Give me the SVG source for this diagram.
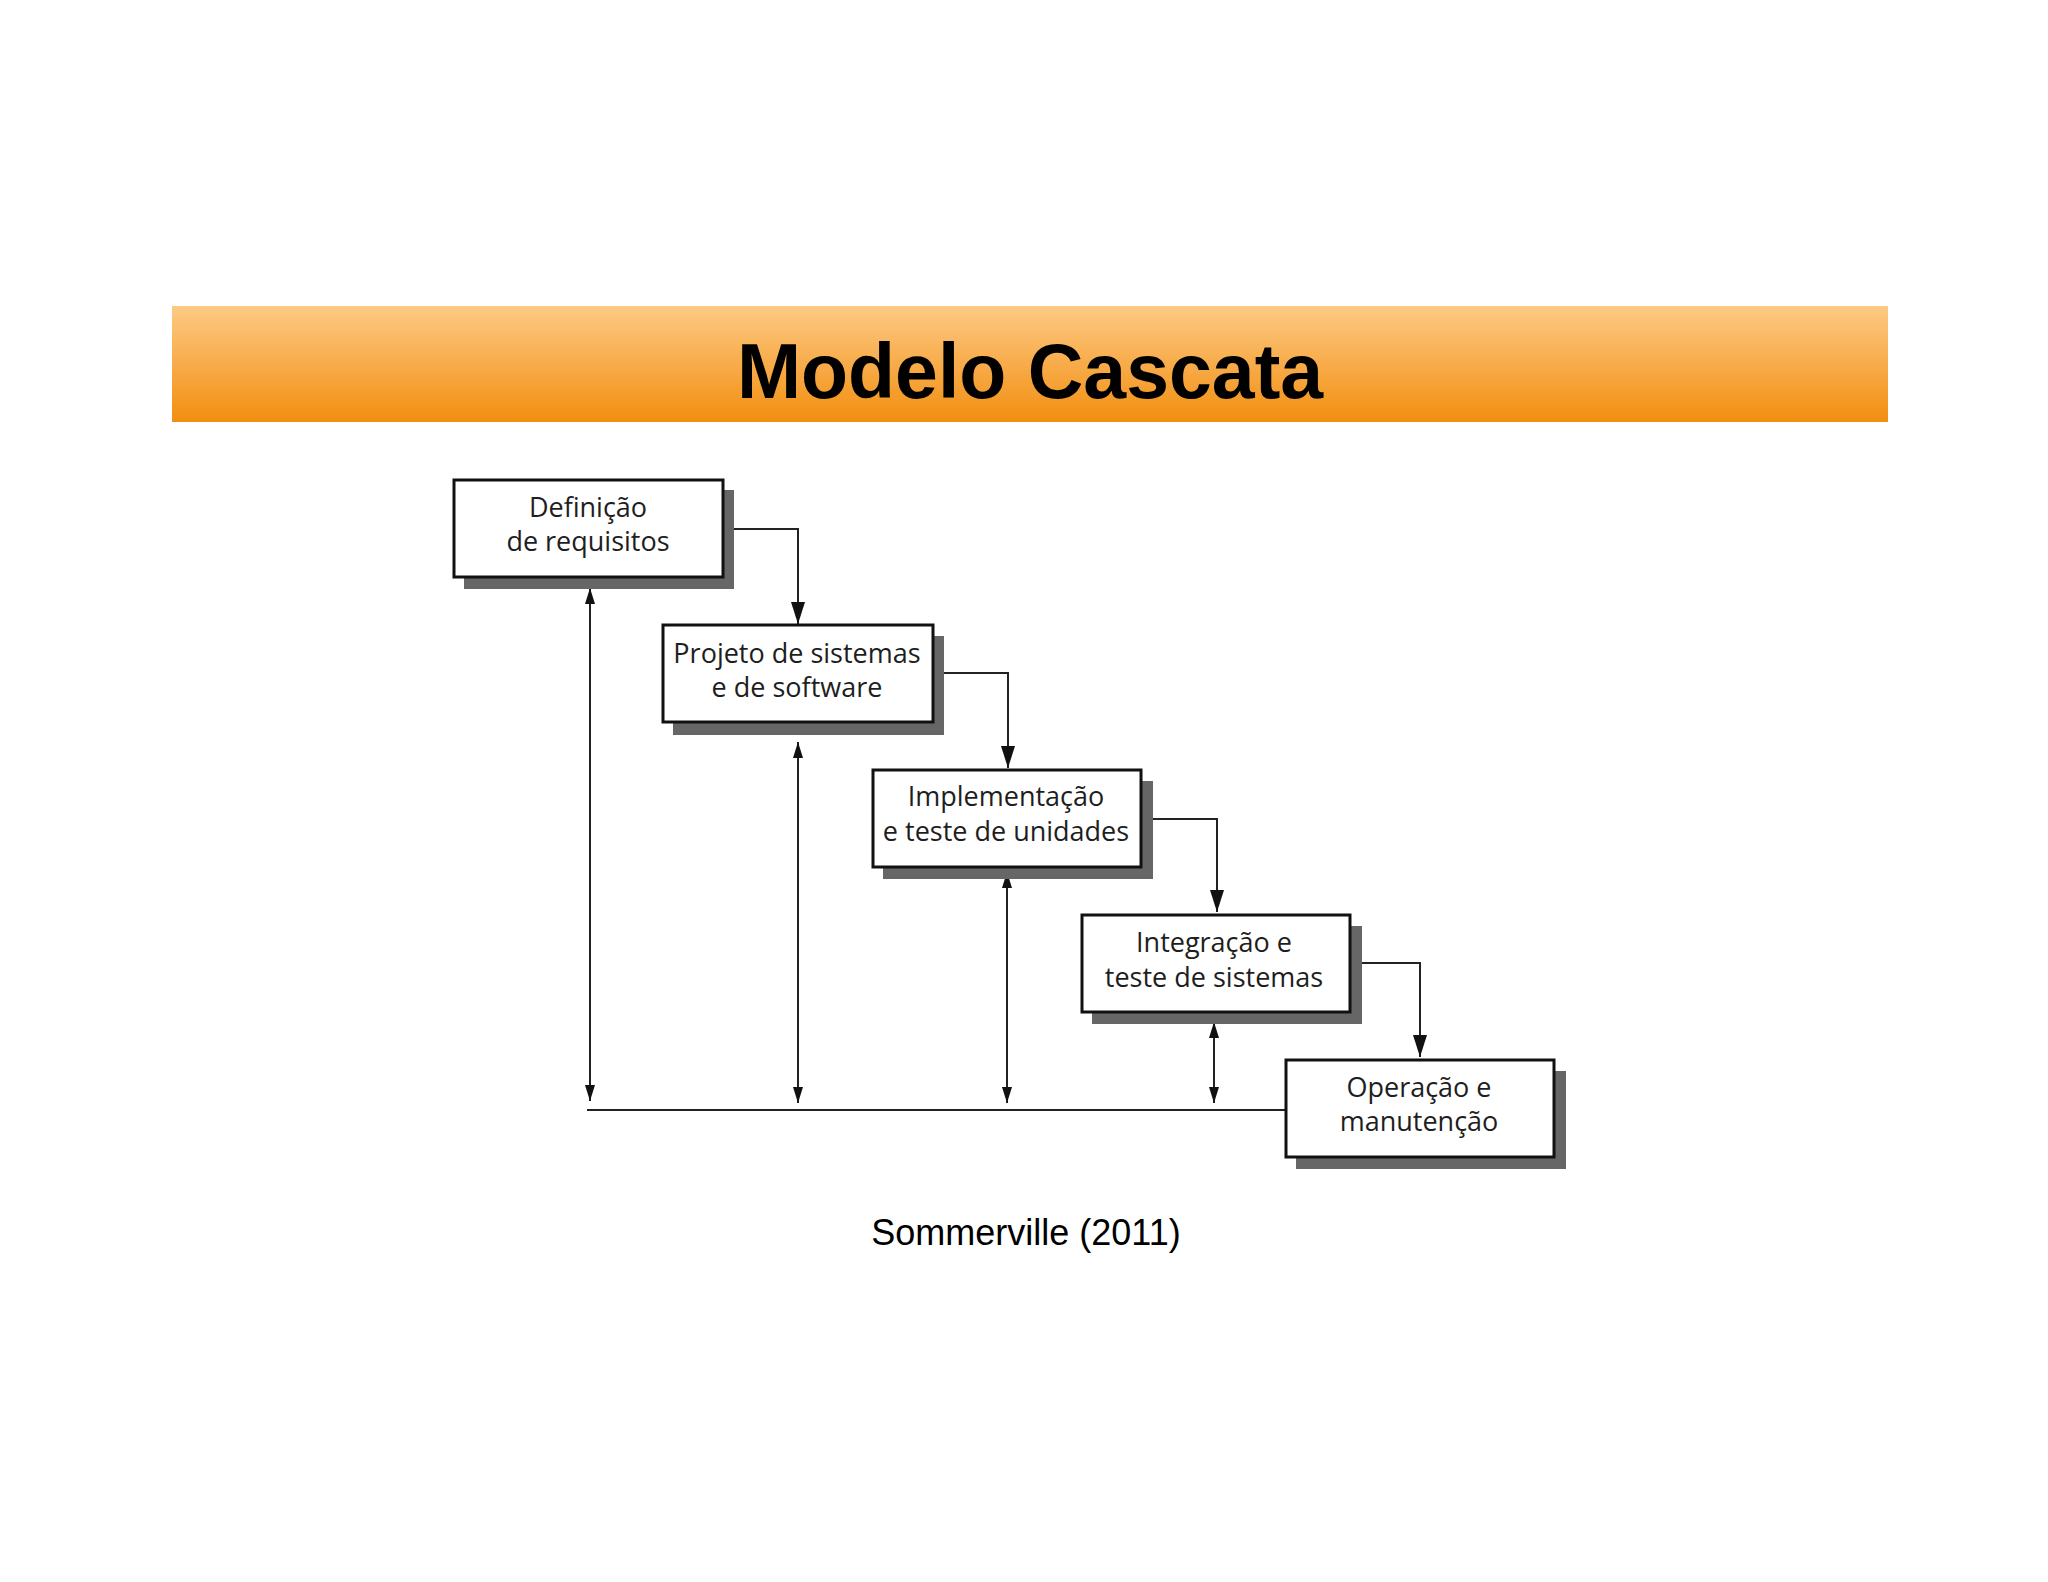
<svg xmlns="http://www.w3.org/2000/svg" width="2048" height="1582" viewBox="0 0 2048 1582">
<style>
.box{fill:#fff;stroke:#111;stroke-width:3}
.shadow{fill:#666}
.lbl{font-family:"Open Sans","Noto Sans",sans-serif;font-size:27px;fill:#1e1e1e;text-anchor:middle;font-weight:500}
.conn{fill:none;stroke:#222;stroke-width:2}
.title{font-family:"Liberation Sans",Arial,sans-serif;font-weight:bold;font-size:77px;fill:#000;text-anchor:middle}
.cap{font-family:"Liberation Sans",Arial,sans-serif;font-size:36px;fill:#000;text-anchor:middle}
</style>
<defs>
<linearGradient id="hdr" x1="0" y1="0" x2="0" y2="1">
<stop offset="0" stop-color="#fdca84"/>
<stop offset="1" stop-color="#f28e10"/>
</linearGradient>
<marker id="big" markerUnits="userSpaceOnUse" markerWidth="22" markerHeight="14" refX="22" refY="7" viewBox="0 0 22 14" orient="auto">
<path d="M0,0 L22,7 L0,14 Z" fill="#111"/>
</marker>
<marker id="small" markerUnits="userSpaceOnUse" markerWidth="16" markerHeight="10" refX="16" refY="5" viewBox="0 0 16 10" orient="auto">
<path d="M0,0 L16,5 L0,10 Z" fill="#111"/>
</marker>
</defs>
<rect width="2048" height="1582" fill="#fff"/>
<g id="header">
<rect x="172" y="306" width="1716" height="116" fill="url(#hdr)"/>
<text class="title" x="1030" y="398">Modelo Cascata</text>
</g>
<g id="connectors">
<path class="conn" d="M723,529 H798 V624" marker-end="url(#big)"/>
<path class="conn" d="M933,673 H1008 V768" marker-end="url(#big)"/>
<path class="conn" d="M1141,819 H1217 V912" marker-end="url(#big)"/>
<path class="conn" d="M1350,963 H1420 V1057" marker-end="url(#big)"/>
<path class="conn" d="M587,1110 H1286"/>
<line class="conn" x1="590" y1="1000" x2="590" y2="588" marker-end="url(#small)"/>
<line class="conn" x1="590" y1="700" x2="590" y2="1101" marker-end="url(#small)"/>
<line class="conn" x1="798" y1="900" x2="798" y2="742" marker-end="url(#small)"/>
<line class="conn" x1="798" y1="900" x2="798" y2="1103" marker-end="url(#small)"/>
<line class="conn" x1="1007" y1="1000" x2="1007" y2="872" marker-end="url(#small)"/>
<line class="conn" x1="1007" y1="1000" x2="1007" y2="1103" marker-end="url(#small)"/>
<line class="conn" x1="1214" y1="1060" x2="1214" y2="1022" marker-end="url(#small)"/>
<line class="conn" x1="1214" y1="1060" x2="1214" y2="1103" marker-end="url(#small)"/>
</g>
<g id="node1">
<rect class="shadow" x="464" y="490" width="270" height="99"/>
<rect class="box" x="454" y="480" width="269" height="97"/>
<text class="lbl" x="588" y="517">Definição</text>
<text class="lbl" x="588" y="551">de requisitos</text>
</g>
<g id="node2">
<rect class="shadow" x="673" y="636" width="271" height="99"/>
<rect class="box" x="663" y="625" width="270" height="97"/>
<text class="lbl" x="797" y="663">Projeto de sistemas</text>
<text class="lbl" x="797" y="697">e de software</text>
</g>
<g id="node3">
<rect class="shadow" x="883" y="781" width="270" height="98"/>
<rect class="box" x="873" y="770" width="268" height="97"/>
<text class="lbl" x="1006" y="806">Implementação</text>
<text class="lbl" x="1006" y="841">e teste de unidades</text>
</g>
<g id="node4">
<rect class="shadow" x="1092" y="926" width="270" height="98"/>
<rect class="box" x="1082" y="915" width="268" height="97"/>
<text class="lbl" x="1214" y="952">Integração e</text>
<text class="lbl" x="1214" y="987">teste de sistemas</text>
</g>
<g id="node5">
<rect class="shadow" x="1296" y="1071" width="270" height="98"/>
<rect class="box" x="1286" y="1060" width="268" height="97"/>
<text class="lbl" x="1419" y="1097">Operação e</text>
<text class="lbl" x="1419" y="1131">manutenção</text>
</g>
<text class="cap" x="1026" y="1245">Sommerville (2011)</text>
</svg>
